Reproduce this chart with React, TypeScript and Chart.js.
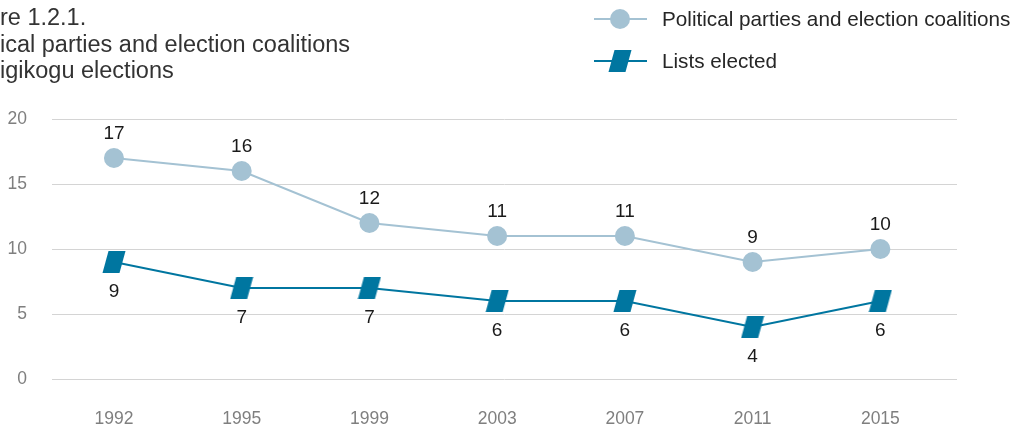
import React, { useEffect, useRef } from 'react';
import { Chart, registerables } from 'chart.js';

Chart.register(...registerables);

// ---- data ----
const years: string[] = ['1992', '1995', '1999', '2003', '2007', '2011', '2015'];
const partiesAndCoalitions: number[] = [17, 16, 12, 11, 11, 9, 10];
const listsElected: number[] = [9, 7, 7, 6, 6, 4, 6];
const seriesNames: string[] = ['Political parties and election coalitions', 'Lists elected'];
const yMin = 0;
const yMax = 20;
const yStep = 5;
// title lines: [hidden prefix (cut off by the left edge), visible part]
const titleLines: [string, string][] = [
  ['Figu', 're 1.2.1.'],
  ['Polit', 'ical parties and election coalitions'],
  ['in Ri', 'igikogu elections'],
];

// ---- styles ----
const FONT = '"Liberation Sans", Arial, sans-serif';
const LIGHT = '#a4c2d3';
const DARK = '#0076a0';

function makeParallelogram(): HTMLCanvasElement {
  const c = document.createElement('canvas');
  c.width = 24;
  c.height = 24;
  const ctx = c.getContext('2d')!;
  ctx.fillStyle = DARK;
  ctx.beginPath();
  ctx.moveTo(6.5, 1);
  ctx.lineTo(23.5, 1);
  ctx.lineTo(17.5, 23);
  ctx.lineTo(0.5, 23);
  ctx.closePath();
  ctx.fill();
  return c;
}

export default function App() {
  const ref = useRef<HTMLCanvasElement | null>(null);

  useEffect(() => {
    document.body.style.margin = '0';
    const para = makeParallelogram();

    const overlay = {
      id: 'overlay',
      afterDatasetsDraw(chart: any) {
        const ctx: CanvasRenderingContext2D = chart.ctx;
        ctx.save();
        // value labels
        ctx.font = `19px ${FONT}`;
        ctx.fillStyle = '#1a1a1a';
        ctx.textAlign = 'center';
        ctx.textBaseline = 'alphabetic';
        chart.data.datasets.forEach((ds: any, di: number) => {
          const meta = chart.getDatasetMeta(di);
          meta.data.forEach((pt: any, i: number) => {
            const v = ds.data[i].y;
            if (di === 0) ctx.fillText(String(v), pt.x, pt.y - 19);
            else ctx.fillText(String(v), pt.x, pt.y + 35);
          });
        });

        // title (cut off at the left edge)
        ctx.font = `23.5px ${FONT}`;
        ctx.fillStyle = '#333333';
        ctx.textAlign = 'left';
        const baselines = [25, 52, 78];
        titleLines.forEach(([pre, vis], i) => {
          const w = ctx.measureText(pre).width;
          ctx.fillText(pre + vis, -w, baselines[i]);
        });

        // legend
        const rows = [19, 61];
        rows.forEach((y, i) => {
          const color = i === 0 ? LIGHT : DARK;
          ctx.strokeStyle = color;
          ctx.lineWidth = 2;
          ctx.beginPath();
          ctx.moveTo(594, y);
          ctx.lineTo(647, y);
          ctx.stroke();
          if (i === 0) {
            ctx.fillStyle = LIGHT;
            ctx.beginPath();
            ctx.arc(620, y, 10, 0, Math.PI * 2);
            ctx.fill();
          } else {
            ctx.drawImage(para, 620 - 12, y - 12);
          }
          ctx.fillStyle = '#262626';
          ctx.font = `20.7px ${FONT}`;
          ctx.textAlign = 'left';
          ctx.textBaseline = 'alphabetic';
          ctx.fillText(chart.data.datasets[i].label, 662, y + 7);
        });
        ctx.restore();
      },
    };

    const chart = new Chart(ref.current!, {
      type: 'line',
      data: {
        datasets: [
          {
            label: seriesNames[0],
            data: partiesAndCoalitions.map((v, i) => ({ x: i, y: v })),
            borderColor: LIGHT,
            backgroundColor: LIGHT,
            borderWidth: 2,
            pointStyle: 'circle',
            pointRadius: 10,
            pointBorderWidth: 0,
            pointBackgroundColor: LIGHT,
          },
          {
            label: seriesNames[1],
            data: listsElected.map((v, i) => ({ x: i, y: v })),
            borderColor: DARK,
            backgroundColor: DARK,
            borderWidth: 2,
            pointStyle: para as any,
            pointRadius: 12,
            pointBorderWidth: 0,
          },
        ],
      },
      options: {
        animation: false,
        responsive: true,
        maintainAspectRatio: false,
        layout: { padding: { left: 0, top: 119, right: 70, bottom: 0 } },
        plugins: {
          legend: { display: false },
          tooltip: { enabled: false },
          title: { display: false },
        },
        scales: {
          x: {
            type: 'linear',
            min: -0.485,
            max: 6.6,
            grid: { display: false, drawTicks: false },
            border: { display: false },
            afterBuildTicks: (axis: any) => {
              axis.ticks = years.map((_, i) => ({ value: i }));
            },
            afterFit: (axis: any) => {
              axis.height = 54;
            },
            ticks: {
              autoSkip: false,
              maxRotation: 0,
              padding: 30,
              color: '#7f7f7f',
              font: { family: FONT, size: 17.5 },
              callback: (v: any) => years[Math.round(Number(v))] ?? '',
            },
          },
          y: {
            min: yMin,
            max: yMax,
            grid: { color: '#d4d4d4', lineWidth: 1, drawTicks: false },
            border: { display: false },
            afterFit: (axis: any) => {
              axis.width = 52;
            },
            ticks: {
              stepSize: yStep,
              padding: 25,
              color: '#7f7f7f',
              font: { family: FONT, size: 17.5 },
            },
          },
        },
      },
      plugins: [overlay],
    });
    return () => chart.destroy();
  }, []);

  return (
    <div style={{ position: 'relative', width: 1027, height: 433 }}>
      <canvas ref={ref} />
    </div>
  );
}
